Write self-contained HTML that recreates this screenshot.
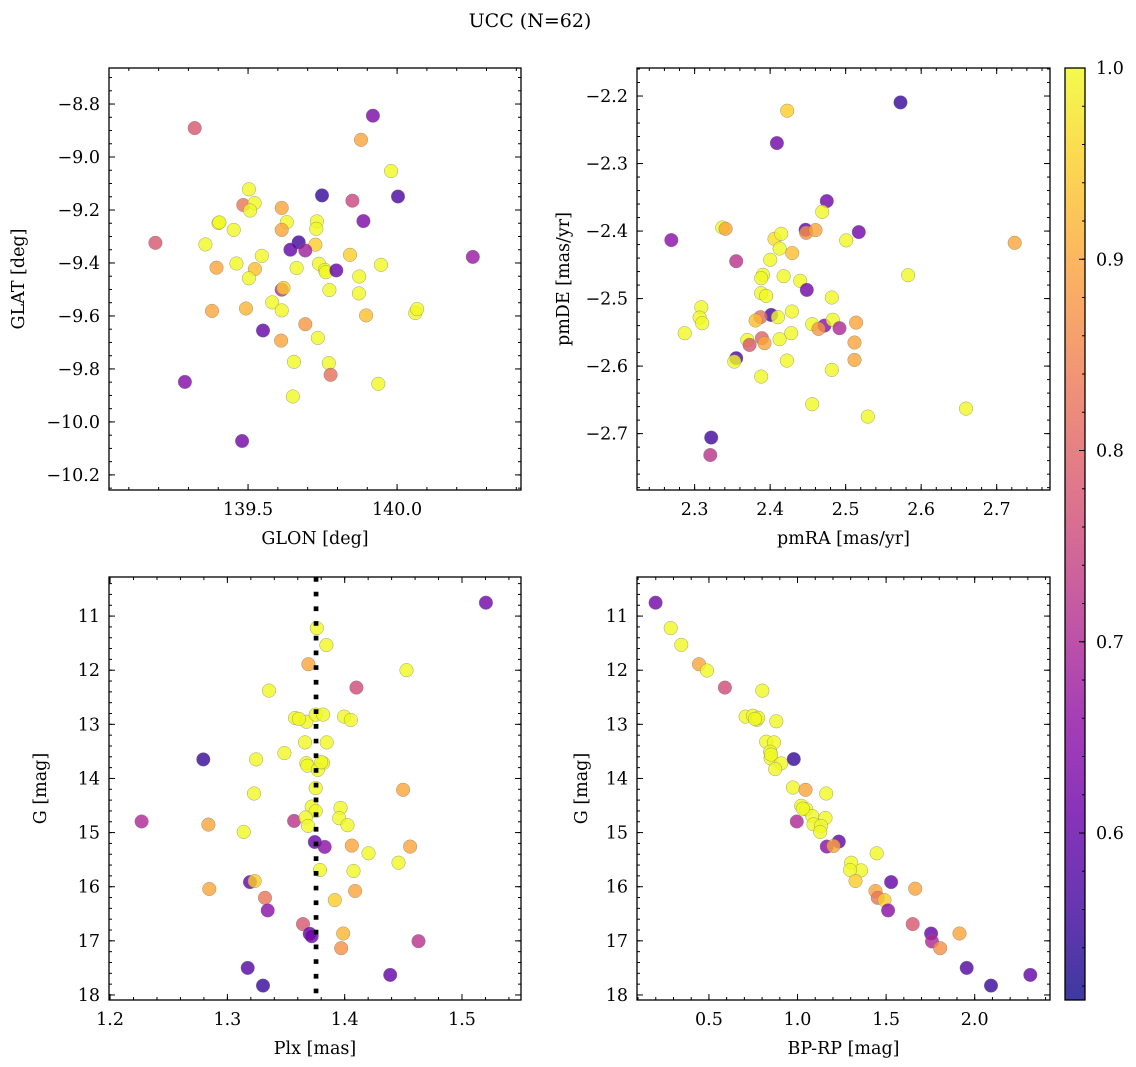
<!DOCTYPE html>
<html><head><meta charset="utf-8"><style>
html,body{margin:0;padding:0;background:#fff;}
svg{display:block;font-family:"DejaVu Serif","Liberation Serif",serif;}
</style></head><body>
<svg id="fig" width="1136" height="1067" viewBox="0 0 1136 1067" xmlns="http://www.w3.org/2000/svg">
<text x="530" y="27" font-size="19" text-anchor="middle">UCC (N=62)</text>
</svg>
<script>
// ---- Panel 1: GLON vs GLAT ----
const p1Glon=[139.321,139.919,139.879,139.980,139.503,139.748,140.003,139.484,139.522,139.507,139.613,139.850,139.887,139.401,139.452,139.630,139.613,139.731,139.729,139.189,139.357,139.670,139.726,139.642,139.692,139.546,139.842,140.254,139.461,139.394,139.523,139.663,139.738,139.758,139.761,139.796,139.946,139.503,139.873,139.613,139.619,139.773,139.872,139.581,139.379,139.493,139.613,140.061,140.067,139.896,139.692,139.550,139.734,139.611,139.654,139.771,139.777,139.288,139.937,139.650,139.480,139.404];
const p1Glat=[-8.891,-8.844,-8.935,-9.053,-9.122,-9.145,-9.149,-9.181,-9.174,-9.202,-9.192,-9.165,-9.242,-9.249,-9.275,-9.246,-9.275,-9.243,-9.271,-9.324,-9.330,-9.322,-9.331,-9.350,-9.353,-9.373,-9.369,-9.377,-9.402,-9.418,-9.423,-9.419,-9.403,-9.426,-9.435,-9.428,-9.407,-9.458,-9.451,-9.501,-9.494,-9.502,-9.515,-9.549,-9.581,-9.572,-9.579,-9.589,-9.574,-9.598,-9.631,-9.655,-9.683,-9.693,-9.773,-9.778,-9.822,-9.849,-9.856,-9.904,-10.072,-9.247];
const p1Prob=[0.78,0.63,0.90,1.0,1.0,0.55,0.57,0.83,1.0,1.0,0.90,0.75,0.63,1.0,1.0,1.0,0.90,1.0,1.0,0.78,1.0,0.56,0.95,0.60,0.68,1.0,0.95,0.67,1.0,0.90,0.93,1.0,1.0,1.0,1.0,0.60,1.0,1.0,1.0,0.72,0.95,1.0,1.0,1.0,0.90,0.92,1.0,1.0,1.0,0.93,0.88,0.60,1.0,0.90,1.0,1.0,0.82,0.64,1.0,1.0,0.62,1.0];
const p1XTicks=[139.5,140.0];
const p1XTickLabels=["139.5","140.0"];
const p1YTicks=[-8.8,-9.0,-9.2,-9.4,-9.6,-9.8,-10.0,-10.2];
const p1YTickLabels=["\u22128.8","\u22129.0","\u22129.2","\u22129.4","\u22129.6","\u22129.8","\u221210.0","\u221210.2"];

// ---- Panel 2: pmRA vs pmDE ----
const p2Pmra=[2.5726,2.4226,2.4089,2.4751,2.4689,2.2691,2.3366,2.3410,2.4469,2.4477,2.4601,2.4058,2.4147,2.5174,2.5007,2.7238,2.4292,2.4125,2.3551,2.4001,2.5827,2.3904,2.3882,2.4178,2.4398,2.4486,2.3882,2.3948,2.4817,2.3088,2.3066,2.3101,2.2868,2.4014,2.3873,2.3807,2.4103,2.4288,2.4557,2.4720,2.4641,2.4830,2.4918,2.5139,2.5117,2.5117,2.4279,2.4125,2.3697,2.3728,2.3891,2.3926,2.3551,2.3525,2.4222,2.4817,2.3882,2.4557,2.5293,2.6594,2.3220,2.3207];
const p2Pmde=[-2.2094,-2.2217,-2.2697,-2.3556,-2.3714,-2.4134,-2.3947,-2.3966,-2.3981,-2.4026,-2.3986,-2.4115,-2.4041,-2.4016,-2.4139,-2.4174,-2.4327,-2.4258,-2.4446,-2.4426,-2.4653,-2.4648,-2.4698,-2.4668,-2.4737,-2.4871,-2.4920,-2.4960,-2.4984,-2.5127,-2.5281,-2.5365,-2.5513,-2.5241,-2.5276,-2.5325,-2.5276,-2.5192,-2.5380,-2.5400,-2.5449,-2.5315,-2.5439,-2.5355,-2.5651,-2.5908,-2.5513,-2.5602,-2.5612,-2.5686,-2.5587,-2.5661,-2.5883,-2.5933,-2.5918,-2.6056,-2.6155,-2.6565,-2.6748,-2.6629,-2.7059,-2.7316];
const p2Prob=[0.55,0.95,0.62,0.62,1.0,0.65,1.0,0.90,0.60,0.87,0.90,0.97,1.0,0.62,1.0,0.90,0.93,1.0,0.72,1.0,1.0,1.0,1.0,1.0,1.0,0.62,1.0,1.0,1.0,1.0,1.0,1.0,1.0,0.57,0.82,0.93,1.0,1.0,1.0,0.65,0.88,1.0,0.70,0.90,0.90,0.90,1.0,1.0,1.0,0.78,0.80,0.90,0.57,1.0,1.0,1.0,1.0,1.0,1.0,1.0,0.56,0.72];
const p2XTicks=[2.3,2.4,2.5,2.6,2.7];
const p2XTickLabels=["2.3","2.4","2.5","2.6","2.7"];
const p2YTicks=[-2.2,-2.3,-2.4,-2.5,-2.6,-2.7];
const p2YTickLabels=["\u22122.2","\u22122.3","\u22122.4","\u22122.5","\u22122.6","\u22122.7"];

// ---- Panel 3: Plx vs G ----
const p3Plx=[1.5204,1.3762,1.3844,1.3691,1.4527,1.4100,1.3355,1.3577,1.3674,1.3753,1.3816,1.3995,1.4052,1.3662,1.3847,1.3486,1.2795,1.3245,1.3674,1.3682,1.3816,1.3771,1.3753,1.3227,1.4498,1.3719,1.3753,1.3964,1.3953,1.4024,1.2269,1.2838,1.3569,1.3668,1.3688,1.3139,1.3745,1.3830,1.4061,1.4558,1.4203,1.4459,1.3790,1.4075,1.3193,1.3233,1.2846,1.4089,1.3321,1.3916,1.3344,1.3645,1.3702,1.3719,1.3987,1.4629,1.3970,1.3173,1.4388,1.3304,1.3610,1.3800];
const p3G=[10.753,11.222,11.537,11.889,12.000,12.321,12.377,12.883,12.951,12.821,12.821,12.858,12.920,13.333,13.333,13.531,13.648,13.648,13.716,13.765,13.716,13.840,14.179,14.278,14.210,14.519,14.605,14.543,14.735,14.864,14.796,14.852,14.784,14.722,14.877,14.988,15.173,15.265,15.241,15.259,15.383,15.556,15.691,15.710,15.914,15.895,16.043,16.080,16.204,16.247,16.438,16.691,16.870,16.914,16.864,17.006,17.136,17.500,17.630,17.827,12.900,13.700];
const p3Prob=[0.62,1.0,1.0,0.90,1.0,0.76,1.0,1.0,1.0,1.0,1.0,1.0,1.0,1.0,1.0,1.0,0.55,1.0,1.0,1.0,1.0,1.0,1.0,1.0,0.90,1.0,1.0,1.0,1.0,1.0,0.70,0.90,0.72,1.0,1.0,1.0,0.60,0.65,0.90,0.90,1.0,1.0,1.0,1.0,0.60,0.95,0.90,0.90,0.83,0.95,0.65,0.78,0.60,0.62,0.92,0.72,0.87,0.58,0.60,0.55,1.0,1.0];
const p3PlxMean=[1.3756];
const p3XTicks=[1.2,1.3,1.4,1.5];
const p3XTickLabels=["1.2","1.3","1.4","1.5"];
const gTicks=[11,12,13,14,15,16,17,18];
const gTickLabels=["11","12","13","14","15","16","17","18"];

// ---- Panel 4: BP-RP vs G ----
const p4Bprp=[0.199,0.284,0.344,0.444,0.489,0.590,0.801,0.707,0.748,0.771,0.880,0.823,0.867,0.846,0.848,0.908,0.874,0.979,0.974,1.045,1.162,1.021,1.049,1.083,1.158,1.090,1.133,1.128,0.996,1.233,1.165,1.203,1.447,1.303,1.359,1.297,1.327,1.528,1.664,1.440,1.453,1.491,1.511,1.650,1.754,1.759,1.914,1.805,1.955,2.092,2.314,1.030,0.851,0.778,0.760];
const p4G=[10.753,11.222,11.531,11.889,12.006,12.321,12.377,12.858,12.840,12.914,12.944,13.321,13.333,13.506,13.630,13.722,13.827,13.642,14.167,14.210,14.278,14.506,14.568,14.691,14.728,14.846,14.877,14.988,14.796,15.167,15.259,15.247,15.383,15.556,15.698,15.691,15.895,15.914,16.037,16.080,16.204,16.247,16.438,16.691,16.864,17.012,16.864,17.136,17.500,17.827,17.630,14.556,13.560,12.880,12.900];
const p4Prob=[0.62,1.0,1.0,0.90,1.0,0.76,1.0,1.0,1.0,1.0,1.0,1.0,1.0,1.0,1.0,1.0,1.0,0.55,1.0,0.90,1.0,1.0,1.0,1.0,1.0,1.0,1.0,1.0,0.70,0.60,0.65,0.90,1.0,1.0,1.0,1.0,0.95,0.60,0.90,0.90,0.83,0.95,0.65,0.78,0.60,0.70,0.90,0.87,0.58,0.55,0.60,1.0,1.0,1.0,1.0];
const p4XTicks=[0.5,1.0,1.5,2.0];
const p4XTickLabels=["0.5","1.0","1.5","2.0"];

// ---- Colorbar ----
const cbTicks=[0.6,0.7,0.8,0.9,1.0];
const cbTickLabels=["0.6","0.7","0.8","0.9","1.0"];
const VMIN=0.5127, VMAX=1.0;

const NS="http://www.w3.org/2000/svg";
const svg=document.getElementById('fig');
function mk(tag,attrs,parent){const e=document.createElementNS(NS,tag);for(const k in attrs)e.setAttribute(k,attrs[k]);(parent||svg).appendChild(e);return e;}

const plasmaStops=[[13,8,135],[65,4,157],[106,0,168],[143,13,164],[177,42,144],[204,71,120],[225,100,98],[242,132,75],[252,166,54],[252,206,37],[240,249,33]];
function plasma(t){t=Math.max(0,Math.min(1,t));const s=t*10;const i=Math.min(9,Math.floor(s));const f=s-i;const a=plasmaStops[i],b=plasmaStops[i+1];
 return 'rgb('+a.map((v,k)=>Math.round(v+(b[k]-v)*f)).join(',')+')';}
function cmap(p){return plasma((p-VMIN)/(VMAX-VMIN));}
const FS=17.5;

function panel(cfg){
 const g=mk('g',{});
 
 
 const L=cfg.box[0],T=cfg.box[1],R=cfg.box[2],B=cfg.box[3];
 const sx=v=>L+(v-cfg.xr[0])/(cfg.xr[1]-cfg.xr[0])*(R-L);
 const sy=cfg.invert? (v=>T+(v-cfg.yr[0])/(cfg.yr[1]-cfg.yr[0])*(B-T)) : (v=>B-(v-cfg.yr[0])/(cfg.yr[1]-cfg.yr[0])*(B-T));
 const clip='clip-'+cfg.name;
 const cp=mk('clipPath',{id:clip},g);mk('rect',{x:L,y:T,width:R-L,height:B-T},cp);
 const pts=mk('g',{'clip-path':'url(#'+clip+')'},g);
 
 
 for(let i=0;i<cfg.x.length;i++){
  const c=mk('circle',{cx:sx(cfg.x[i]).toFixed(1),cy:sy(cfg.y[i]).toFixed(1),r:6.8,fill:cmap(cfg.p[i]),'fill-opacity':0.8,stroke:'#777','stroke-width':0.5,'stroke-opacity':0.7},pts);
  
  
 }
 if(cfg.vline){
  const l=mk('line',{x1:sx(cfg.vline[0]),x2:sx(cfg.vline[0]),y1:T,y2:B,stroke:'#000','stroke-width':4.7,'stroke-dasharray':'4.7 10'},g);
  
  
 }
 const tk=mk('g',{stroke:'#000','stroke-width':1},g);
 const xMin=cfg.xr[0],xMax=cfg.xr[1];
 for(let v=Math.ceil(xMin/cfg.xminor)*cfg.xminor;v<=xMax;v+=cfg.xminor){const X=sx(v);mk('line',{x1:X,x2:X,y1:B,y2:B-3},tk);mk('line',{x1:X,x2:X,y1:T,y2:T+3},tk);}
 const yLo=Math.min(...cfg.yr),yHi=Math.max(...cfg.yr);
 for(let v=Math.ceil(yLo/cfg.yminor-1e-6)*cfg.yminor;v<=yHi;v+=cfg.yminor){const Y=sy(v);mk('line',{x1:L,x2:L+3,y1:Y,y2:Y},tk);mk('line',{x1:R,x2:R-3,y1:Y,y2:Y},tk);}
 cfg.xt.forEach((v,i)=>{const X=sx(v);mk('line',{x1:X,x2:X,y1:B,y2:B-6},tk);mk('line',{x1:X,x2:X,y1:T,y2:T+6},tk);
  const t=mk('text',{x:X,y:B+25,'font-size':FS,'text-anchor':'middle'},g);t.textContent=cfg.xtl[i];
  
  });
 cfg.yt.forEach((v,i)=>{const Y=sy(v);mk('line',{x1:L,x2:L+6,y1:Y,y2:Y},tk);mk('line',{x1:R,x2:R-6,y1:Y,y2:Y},tk);
  const t=mk('text',{x:L-9,y:Y+6,'font-size':FS,'text-anchor':'end'},g);t.textContent=cfg.ytl[i];
  
  });
 const fr=mk('rect',{x:L,y:T,width:R-L,height:B-T,fill:'none',stroke:'#000','stroke-width':1.3},g);
 
 
 const xl=mk('text',{x:(L+R)/2,y:B+54,'font-size':FS,'text-anchor':'middle'},g);xl.textContent=cfg.xlabel;
 
 
 const yl=mk('text',{x:0,y:0,'font-size':FS,'text-anchor':'middle',transform:'translate('+cfg.ylx+','+((T+B)/2)+') rotate(-90)'},g);yl.textContent=cfg.ylabel;
 
 
}

panel({name:'glon-glat-panel',box:[109,68,521,490],xr:[139.0335,140.4157],yr:[-10.257,-8.664],x:p1Glon,y:p1Glat,p:p1Prob,xt:p1XTicks,xtl:p1XTickLabels,yt:p1YTicks,ytl:p1YTickLabels,xminor:0.1,yminor:0.05,xlabel:'GLON [deg]',ylabel:'GLAT [deg]',ylx:24});
panel({name:'pm-panel',box:[637,68,1050,490],xr:[2.2237,2.7706],yr:[-2.7835,-2.1585],x:p2Pmra,y:p2Pmde,p:p2Prob,xt:p2XTicks,xtl:p2XTickLabels,yt:p2YTicks,ytl:p2YTickLabels,xminor:0.02,yminor:0.02,xlabel:'pmRA [mas/yr]',ylabel:'pmDE [mas/yr]',ylx:569});
panel({name:'plx-g-panel',box:[109,577,521,1000],xr:[1.1991,1.5503],yr:[10.278,18.093],invert:true,x:p3Plx,y:p3G,p:p3Prob,vline:p3PlxMean,xt:p3XTicks,xtl:p3XTickLabels,yt:gTicks,ytl:gTickLabels,xminor:0.02,yminor:0.2,xlabel:'Plx [mas]',ylabel:'G [mag]',ylx:46});
panel({name:'cmd-panel',box:[637,577,1050,1000],xr:[0.094,2.425],yr:[10.278,18.093],invert:true,x:p4Bprp,y:p4G,p:p4Prob,xt:p4XTicks,xtl:p4XTickLabels,yt:gTicks,ytl:gTickLabels,xminor:0.1,yminor:0.2,xlabel:'BP-RP [mag]',ylabel:'G [mag]',ylx:587});

// colorbar
(function(){
 const L=1065,R=1085,T=68,B=1000;
 const g=mk('g',{});
 
 
 const defs=mk('defs',{},g);
 const lg=mk('linearGradient',{id:'cbgrad',x1:0,y1:1,x2:0,y2:0},defs);
 for(let i=0;i<=20;i++){mk('stop',{offset:(i/20),'stop-color':plasma(i/20)},lg);}
 mk('rect',{x:L,y:T,width:R-L,height:B-T,fill:'url(#cbgrad)','fill-opacity':0.8},g);
 const sy=v=>B-(v-VMIN)/(VMAX-VMIN)*(B-T);
 for(let v=0.52;v<=1.0001;v+=0.02){const Y=sy(v);mk('line',{x1:R,x2:R-3,y1:Y,y2:Y,stroke:'#000','stroke-width':1},g);}
 cbTicks.forEach((v,i)=>{const Y=sy(v);mk('line',{x1:R,x2:R-6,y1:Y,y2:Y,stroke:'#000','stroke-width':1},g);
  const t=mk('text',{x:R+11,y:Y+6,'font-size':FS},g);t.textContent=cbTickLabels[i];
  
  });
 mk('rect',{x:L,y:T,width:R-L,height:B-T,fill:'none',stroke:'#000','stroke-width':1.3},g);
})();
</script>
</body></html>
